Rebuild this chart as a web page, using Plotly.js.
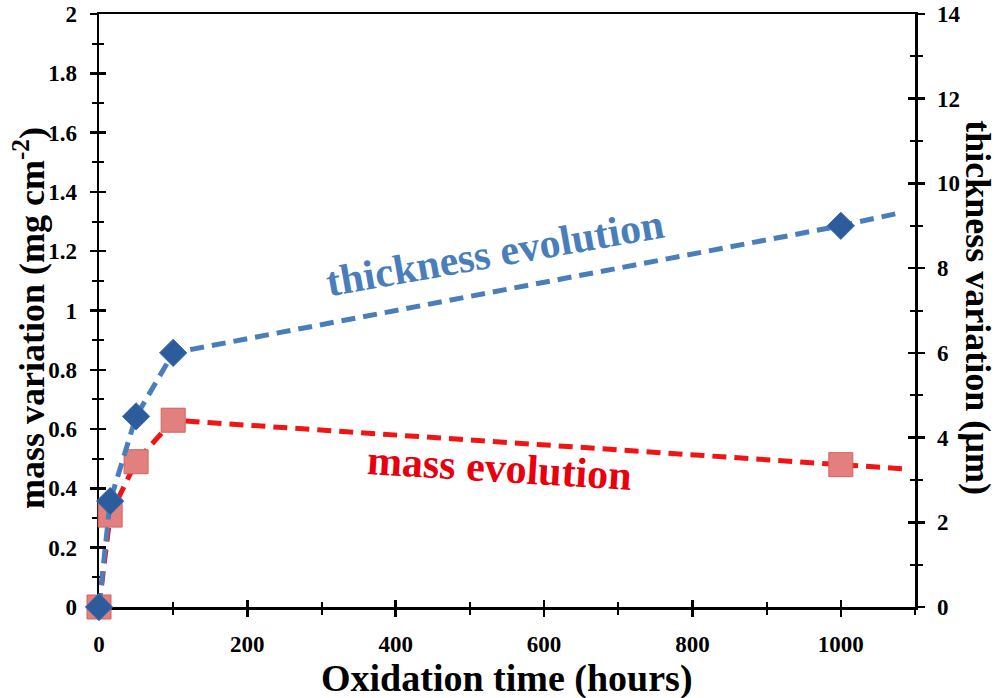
<!DOCTYPE html>
<html>
<head>
<meta charset="utf-8">
<script src="https://cdn.plot.ly/plotly-3.0.1.min.js"></script>
<style>html,body{margin:0;padding:0;background:#fff;}#chart{width:997px;height:698px;}</style>
</head>
<body>
<div id="chart"></div>
<script>
// Data
var hours = [0, 15, 50, 100, 1000];
var massVariation = [0, 0.31, 0.49, 0.63, 0.48];          // mg cm^-2 (left axis)
var thicknessVariation = [0, 2.5, 4.5, 6.0, 9.0];          // µm (right axis)
// dashed trend lines continue a little past the last point
var massLineHours = [0, 15, 50, 100, 1000, 1085];
var massLineValues = [0, 0.31, 0.49, 0.63, 0.48, 0.466];
var thickLineHours = [0, 15, 50, 100, 1000, 1078];
var thickLineValues = [0, 2.5, 4.5, 6.0, 9.0, 9.3];

var FONT = "'Liberation Serif', 'DejaVu Serif', serif";
var BLUE = "#4a7ebb";
var RED = "#f01414";

var traces = [
  {x: massLineHours, y: massLineValues, mode: "lines", xaxis: "x", yaxis: "y",
   line: {color: RED, width: 5, dash: "14px,8px"}, hoverinfo: "skip", cliponaxis: false},
  {x: hours, y: massVariation, mode: "markers", xaxis: "x", yaxis: "y", cliponaxis: false,
   marker: {symbol: "square", size: 24, color: "#e28080", line: {color: "#d46060", width: 1}}},
  {x: thickLineHours, y: thickLineValues, mode: "lines", xaxis: "x", yaxis: "y2",
   line: {color: BLUE, width: 5, dash: "14px,8px"}, hoverinfo: "skip", cliponaxis: false},
  {x: hours, y: thicknessVariation, mode: "markers", xaxis: "x", yaxis: "y2", cliponaxis: false,
   marker: {symbol: "diamond", size: 21, color: "#2c5c9c", line: {color: "#3f6fae", width: 1}}},
  // dummy traces so the inner-tick overlay axes get drawn
  {x: [null], y: [null], xaxis: "x2", yaxis: "y3", showlegend: false},
  {x: [null], y: [null], xaxis: "x2", yaxis: "y4", showlegend: false}
];

var tickFont = {family: FONT, size: 23, color: "#000", weight: "bold"};
var common = {showgrid: false, zeroline: false, showline: true, linecolor: "#000", linewidth: 2.5,
  ticks: "outside", ticklen: 7, tickwidth: 2.5, tickcolor: "#000", tickfont: tickFont,
  ticklabelstandoff: 8, fixedrange: true, layer: "below traces"};

function merge(a, b) { var o = {}; for (var k in a) o[k] = a[k]; for (var k2 in b) o[k2] = b[k2]; return o; }

var inner = {showgrid: false, zeroline: false, showline: false, ticks: "inside", ticklen: 7,
  tickwidth: 2.5, tickcolor: "#000", showticklabels: false, fixedrange: true, layer: "below traces"};

var layout = {
  width: 997, height: 698,
  margin: {l: 99, r: 82, t: 14, b: 91},
  paper_bgcolor: "#fff", plot_bgcolor: "#fff",
  font: {family: FONT},
  showlegend: false,
  xaxis: merge(common, {range: [0, 1100], dtick: 200, tick0: 0, mirror: true,
    minor: {dtick: 100, ticks: "outside", ticklen: 5, tickwidth: 2, tickcolor: "#000"}}),
  yaxis: merge(common, {range: [0, 2], dtick: 0.2, tick0: 0,
    minor: {dtick: 0.1, ticks: "outside", ticklen: 5, tickwidth: 2, tickcolor: "#000"}}),
  yaxis2: merge(common, {range: [0, 14], dtick: 2, tick0: 0, overlaying: "y", side: "right", anchor: "x",
    minor: {dtick: 1, ticks: "outside", ticklen: 5, tickwidth: 2, tickcolor: "#000"}}),
  xaxis2: merge(inner, {range: [0, 1100], dtick: 200, tick0: 0, overlaying: "x", anchor: "y", side: "bottom",
    minor: {dtick: 100, ticks: "inside", ticklen: 5, tickwidth: 2, tickcolor: "#000"}}),
  yaxis3: merge(inner, {range: [0, 2], dtick: 0.2, tick0: 0, overlaying: "y", anchor: "x", side: "left",
    minor: {dtick: 0.1, ticks: "inside", ticklen: 5, tickwidth: 2, tickcolor: "#000"}}),
  yaxis4: merge(inner, {range: [0, 14], dtick: 2, tick0: 0, overlaying: "y", anchor: "x", side: "right",
    minor: {dtick: 1, ticks: "inside", ticklen: 5, tickwidth: 2, tickcolor: "#000"}}),
  annotations: [
    {text: "Oxidation time (hours)", xref: "paper", yref: "paper", x: 0.5, y: -0.12,
     xanchor: "center", yanchor: "middle", showarrow: false,
     font: {family: FONT, size: 38, color: "#000", weight: "bold"}},
    {text: "mass variation (mg cm<sup>-2</sup>)", xref: "paper", yref: "paper", x: -0.086, y: 0.487,
     xanchor: "center", yanchor: "middle", textangle: -90, showarrow: false,
     font: {family: FONT, size: 36, color: "#000", weight: "bold"}},
    {text: "thickness variation (µm)", xref: "paper", yref: "paper", x: 1.077, y: 0.504,
     xanchor: "center", yanchor: "middle", textangle: 90, showarrow: false,
     font: {family: FONT, size: 36, color: "#000", weight: "bold"}},
    {text: "thickness evolution", xref: "paper", yref: "paper", x: 0.485, y: 0.597,
     xanchor: "center", yanchor: "middle", textangle: -10, showarrow: false,
     font: {family: FONT, size: 42, color: BLUE, weight: "bold"}},
    {text: "mass evolution", xref: "paper", yref: "paper", x: 0.491, y: 0.234,
     xanchor: "center", yanchor: "middle", textangle: 3.5, showarrow: false,
     font: {family: FONT, size: 42, color: "#e8000d", weight: "bold"}}
  ]
};

Plotly.newPlot("chart", traces, layout, {staticPlot: true, displayModeBar: false});
</script>
</body>
</html>
